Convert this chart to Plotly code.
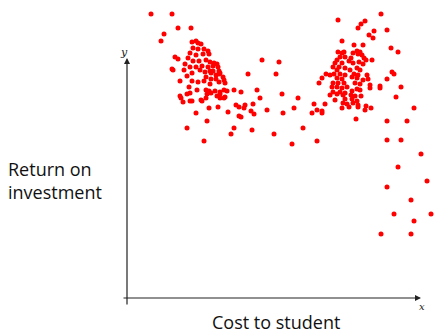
import plotly.graph_objects as go

# Cost to student (x) and return on investment (y), arbitrary units
cost_left = [24, 45, 51, 64, 37, 34, 65, 69, 71, 74, 66, 71, 77, 81, 63, 69, 76, 82, 48, 51,
             61, 66, 72, 79, 83, 87, 90, 58, 63, 69, 75, 81, 86, 91, 45, 57, 73, 83, 86, 92,
             93, 65, 78, 84, 89, 92, 96, 60, 79, 84, 89, 97, 65, 53, 71, 77, 92, 83, 98, 62,
             70, 79, 82, 88, 93, 97, 60, 63, 80, 84, 93, 100, 53, 74, 79, 93, 97, 54, 56, 65,
             82, 91, 69, 80, 60, 77, 46, 90, 98, 75, 63,
             135, 152, 121, 149, 107, 114, 130, 133, 155, 126, 109, 112, 118, 117, 101, 112,
             114, 124, 127, 140, 156, 107, 104, 125, 147]
ret_left = [284, 284, 270, 270, 264, 257, 256, 257, 255, 254, 250, 249, 249, 247, 245, 243, 244, 244, 241, 239,
            240, 237, 237, 238, 236, 235, 234, 234, 231, 231, 232, 231, 232, 231, 229, 228, 228, 227, 227, 227,
            225, 225, 226, 225, 223, 224, 221, 222, 221, 219, 219, 218, 217, 217, 216, 217, 216, 214, 215, 211,
            208, 208, 207, 207, 206, 208, 204, 205, 204, 205, 204, 207, 202, 198, 200, 200, 200, 200, 196, 197,
            190, 191, 185, 177, 170, 157, 228, 202, 201, 197, 197,
            238, 236, 224, 224, 208, 206, 208, 200, 204, 194, 193, 191, 193, 190, 186, 182,
            181, 187, 184, 188, 185, 170, 164, 168, 164]

cost_right = [211, 254, 238, 234, 231, 247, 260, 242, 246, 215, 227, 236, 264, 271, 211, 215, 217, 226, 230, 233,
              231, 235, 213, 218, 224, 237, 210, 222, 232, 239, 245, 208, 215, 226, 236, 206, 212, 218, 230, 233,
              210, 223, 199, 203, 207, 213, 218, 227, 231, 240, 265, 267, 195, 210, 215, 225, 230, 236, 241, 260,
              192, 206, 211, 217, 228, 233, 243, 253, 205, 210, 215, 220, 230, 243, 253, 274, 206, 213, 218, 225,
              233, 203, 210, 216, 224, 228, 234, 269, 208, 218, 225, 230, 216, 220, 226, 231, 239, 171, 167, 187,
              198, 190, 195, 195, 185, 215, 222, 231, 238, 244, 287, 229, 176, 190, 165, 260, 280, 260, 274, 294,
              271, 300, 260, 284, 267, 304, 287, 254, 284]
ret_right = [278, 284, 277, 274, 270, 267, 268, 263, 260, 257, 253, 253, 250, 246, 246, 245, 246, 245, 247, 246,
             244, 243, 241, 241, 240, 240, 238, 237, 236, 238, 238, 235, 235, 235, 234, 231, 231, 230, 230, 228,
             228, 228, 224, 223, 224, 224, 223, 224, 223, 223, 226, 224, 220, 220, 219, 221, 220, 218, 219, 219,
             215, 215, 215, 215, 215, 214, 213, 212, 211, 211, 210, 211, 209, 210, 210, 211, 206, 206, 205, 207,
             208, 203, 204, 203, 203, 202, 202, 201, 198, 199, 199, 197, 195, 194, 195, 193, 192, 200, 190, 194,
             194, 188, 187, 185, 185, 190, 191, 191, 188, 190, 190, 179, 170, 157, 154, 177, 177, 158, 158, 144,
             131, 117, 111, 98, 84, 84, 77, 64, 64]

cost = cost_left + cost_right
ret = ret_left + ret_right

fig = go.Figure()
fig.add_trace(go.Scatter(
    x=cost, y=ret, mode="markers",
    marker=dict(color="#ff0000", size=5, line=dict(width=0)),
    cliponaxis=False, hoverinfo="skip", showlegend=False,
))

axis_color = "#222222"
# y axis arrow
fig.add_annotation(x=0, y=240, ax=0, ay=-8, xref="x", yref="y", axref="x", ayref="y",
                   showarrow=True, arrowhead=2, arrowsize=1, arrowwidth=1.2,
                   arrowcolor=axis_color, text="")
# x axis arrow
fig.add_annotation(x=294, y=0, ax=-5, ay=0, xref="x", yref="y", axref="x", ayref="y",
                   showarrow=True, arrowhead=2, arrowsize=1, arrowwidth=1.2,
                   arrowcolor=axis_color, text="")
fig.add_annotation(x=-3, y=246, xref="x", yref="y", text="y", showarrow=False,
                   font=dict(family="DejaVu Serif", size=11, color="#222", style="italic"))
fig.add_annotation(x=295, y=-8, xref="x", yref="y", text="x", showarrow=False,
                   font=dict(family="DejaVu Serif", size=10, color="#222", style="italic"))

fig.add_annotation(x=6/444, y=1-180/336, xref="paper", yref="paper", xanchor="left", yanchor="middle",
                   align="left", text="Return on<br>investment", showarrow=False,
                   font=dict(family="Open Sans", size=18, color="#111"))
fig.add_annotation(x=276/444, y=1-322/336, xref="paper", yref="paper", xanchor="center", yanchor="middle",
                   text="Cost to student", showarrow=False,
                   font=dict(family="Open Sans", size=18, color="#111"))

fig.update_xaxes(range=[-127, 317], visible=False, fixedrange=True)
fig.update_yaxes(range=[-38, 298], visible=False, fixedrange=True)
fig.update_layout(width=444, height=336, margin=dict(l=0, r=0, t=0, b=0),
                  paper_bgcolor="white", plot_bgcolor="white")

fig.write_html("out.html", config={"displayModeBar": False})
